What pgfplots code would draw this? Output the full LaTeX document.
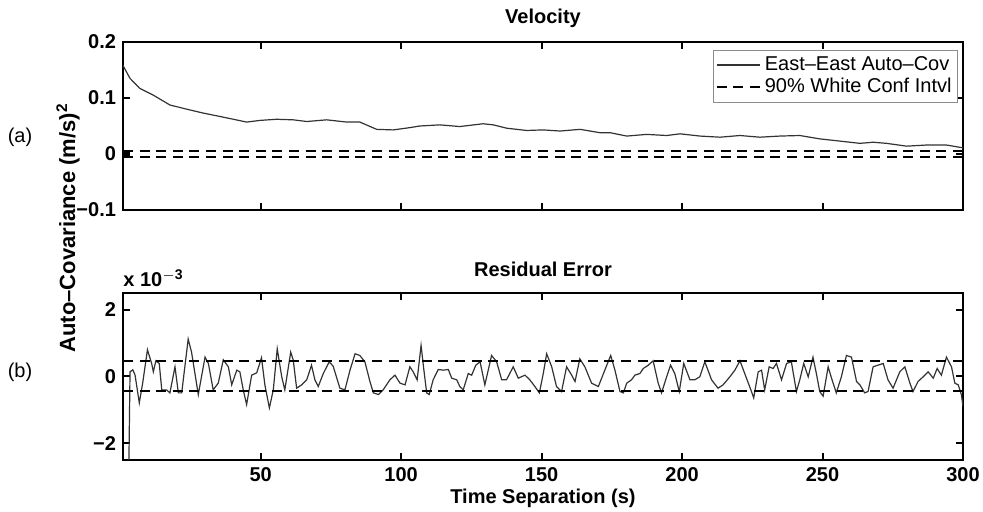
\documentclass[border=0pt]{standalone}
\usepackage{pgfplots}
\pgfplotsset{compat=1.18}
\usepackage{fontspec}
\setmainfont{Liberation Sans}

\pgfplotsset{
  matlab/.style={
    scale only axis, width=420pt,
    xmin=1, xmax=300,
    xtick={50,100,150,200,250,300},
    tick align=inside, major tick length=3.5pt,
    axis line style={line width=1pt},
    every tick/.style={line width=1pt, black},
    ticklabel style={font=\bfseries},
    title style={font=\bfseries, at={(0.5,1)}, anchor=center, yshift=6pt},
  },
  ci/.style={black, line width=1.3pt, dash pattern=on 5pt off 3.3pt},
  cov/.style={black!80, line width=0.6pt},
}

\begin{document}
\begin{tikzpicture}
\useasboundingbox (-61.5pt,-151pt) rectangle (430pt,105pt);

% (a) velocity
\begin{axis}[matlab, name=ax1,
  at={(0,0)}, anchor=south west, height=84pt,
  ymin=-0.1, ymax=0.2,
  ytick={-0.1,0,0.1,0.2}, yticklabels={−0.1,0,0.1,0.2},
  xticklabels={},
  title=Velocity,
  legend cell align=left,
  legend style={at={(0.994,0.952)}, anchor=north east, draw=black!45,
    font=\normalfont, inner sep=1pt, row sep=-1.5pt},
  legend image code/.code={\draw[#1] (0cm,0cm) -- (0.75cm,0cm);},
]
\addplot[cov] coordinates {
 (1,0.158) (3.5,0.135) (7,0.117) (11.8,0.105) (17.7,0.0875) (23.7,0.080)
 (29.6,0.073) (35.5,0.067) (40.3,0.062) (45,0.057) (49.8,0.060) (55.7,0.062)
 (61.6,0.061) (66.4,0.058) (73.5,0.061) (80.6,0.057) (85.3,0.057) (91.3,0.044)
 (97.2,0.043) (103,0.047) (106.7,0.050) (113.8,0.052) (120.9,0.049) (129.2,0.054)
 (132.8,0.052) (137.6,0.046) (144.7,0.042) (150.6,0.043) (156.6,0.041) (163.7,0.044)
 (170.8,0.038) (174.4,0.038) (180.3,0.032) (187.4,0.035) (194.5,0.033) (199.3,0.036)
 (206.4,0.032) (213.5,0.030) (220.6,0.033) (227.7,0.030) (234.8,0.032) (241.9,0.033)
 (249,0.027) (256.2,0.023) (263.3,0.019) (268,0.021) (272.8,0.019) (279.9,0.014)
 (287,0.016) (294.1,0.016) (298.8,0.012) (300,0.011)
};
\addlegendentry{East--East Auto--Cov}
\addplot[ci] coordinates {(1,0.0054) (300,0.0054)};
\addlegendentry{90\% White Conf Intvl}
\addplot[ci, forget plot] coordinates {(1,-0.0054) (300,-0.0054)};
\addplot[black, line width=3pt, forget plot] coordinates {(1,0) (3.5,0)};
\end{axis}

% (b) residual error, values in units of 1e-3
\begin{axis}[matlab, name=ax2,
  at={(0,-41.5pt)}, anchor=north west, height=83.5pt,
  ymin=-2.5, ymax=2.5,
  ytick={-2,0,2}, yticklabels={−2,0,2},
  xticklabels={50,100,150,200,250,300},
  title=Residual Error,
  xlabel=Time Separation (s),
  xlabel style={font=\bfseries, at={(0.5,0)}, anchor=center, yshift=-19pt},
]
\addplot[cov] coordinates {
 (1,-8) (2.3,-8) (3.5,0.14) (4.5,0.20) (5.3,0.04) (6.8,-0.79) (8.0,-0.20)
 (9.7,0.80) (11.2,0.39) (11.8,0.14) (12.7,0.47) (13.9,0.39) (14.8,-0.40)
 (16.5,-0.40) (17.7,-0.49) (19.5,0.29) (20.7,-0.49) (21.9,-0.49) (24.2,1.12)
 (25.4,0.73) (27.8,-0.54) (30.2,0.58) (31.4,0.39) (33.1,-0.40) (34.9,-0.20)
 (36.7,0.50) (38.5,0.29) (39.7,-0.25) (41.5,0.19) (42.6,0.14) (43.8,-0.40)
 (45.0,-0.84) (46.8,0.04) (48.6,0.11) (50.3,0.56) (51.5,-0.25) (53.1,-0.94)
 (54.5,-0.40) (55.9,0.83) (57.5,-0.01) (58.6,-0.40) (60.7,0.73) (61.6,0.49)
 (62.8,-0.35) (64.6,-0.25) (66.4,-0.10) (68.1,0.34) (69.3,-0.10) (70.5,-0.30)
 (72.3,0.09) (74.4,0.44) (75.8,0.31) (78.2,-0.35) (80.0,-0.40) (81.8,0.19)
 (83.6,0.68) (85.3,0.63) (87.1,0.44) (88.9,-0.15) (90.1,-0.49) (91.9,-0.54)
 (93.6,-0.40) (96.0,-0.10) (97.8,0.04) (99.6,-0.20) (101.4,-0.25) (103.1,0.29)
 (104.3,0.14) (105.7,-0.10) (107.1,0.93) (108.1,0.19) (109.1,-0.49) (110.0,-0.54)
 (111.4,-0.10) (113.2,0.21) (115.0,0.19) (116.8,0.21) (118.0,-0.05) (119.8,-0.10)
 (120.9,-0.30) (122.1,-0.40) (123.9,0.09) (125.1,0.04) (126.6,0.34) (128.1,0.44)
 (129.8,-0.25) (131.0,0.19) (132.2,0.63) (134.0,0.44) (135.8,-0.10) (137.5,-0.10)
 (139.9,0.29) (141.7,-0.05) (144.1,0.04) (145.8,-0.10) (147.6,-0.30) (149.2,-0.49)
 (150.6,0.09) (151.8,0.68) (153.6,0.29) (155.3,-0.30) (157.1,-0.45) (158.9,0.29)
 (160.7,0.04) (161.9,-0.15) (163.6,0.53) (165.4,0.29) (167.8,-0.20) (170.2,-0.30)
 (172.5,0.19) (174.6,0.63) (176.1,0.19) (177.9,-0.45) (179.1,-0.49) (180.3,-0.20)
 (182.0,-0.10) (183.2,0.04) (185.0,0.09) (186.2,0.24) (188.0,0.34) (189.7,0.47)
 (191.5,-0.20) (192.7,-0.49) (194.5,-0.01) (195.9,0.34) (197.4,0.09) (199.0,-0.45)
 (200.6,0.39) (202.8,-0.10) (204.5,-0.10) (206.3,-0.01) (208.1,0.44) (210.5,-0.10)
 (212.8,-0.35) (214.6,-0.25) (217.0,-0.01) (218.8,0.19) (220.6,0.47) (222.3,0.09)
 (224.7,-0.45) (225.5,-0.64) (227.1,0.14) (228.3,0.19) (229.4,-0.40) (231.0,0.29)
 (232.4,0.24) (233.6,0.39) (235.4,-0.10) (237.2,0.39) (238.9,0.44) (240.7,-0.45)
 (241.9,-0.10) (243.3,0.39) (244.9,-0.01) (246.6,0.58) (247.8,0.09) (249.0,-0.45)
 (250.2,-0.59) (252.0,0.29) (253.2,-0.05) (254.9,-0.49) (256.7,-0.01) (258.5,0.63)
 (260.3,0.58) (262.1,-0.15) (263.3,-0.25) (265.0,-0.49) (266.2,-0.45) (268.0,0.29)
 (269.8,0.34) (271.6,0.39) (273.3,-0.10) (275.1,-0.35) (277.5,0.14) (279.3,0.29)
 (281.1,-0.20) (282.2,-0.45) (284.0,-0.15) (285.8,-0.01) (287.6,0.14) (289.4,-0.05)
 (290.8,0.24) (292.3,0.04) (294.1,0.58) (295.9,0.29) (297.1,-0.20) (298.3,-0.25)
 (299.4,-0.54) (300,-0.89)
};
\addplot[ci] coordinates {(1,0.46) (300,0.46)};
\addplot[ci] coordinates {(1,-0.44) (300,-0.44)};
\end{axis}

\node[anchor=south west, font=\bfseries, inner sep=0pt] at ([yshift=3pt]ax2.north west) {x 10$^{\mathbf{-3}}$};
\node[rotate=90, font=\fontsize{11}{13}\selectfont\bfseries] at (-27.5pt,-9pt) {Auto--Covariance (m/s)$^{\mathbf{2}}$};
\node at (-51.5pt,36.5pt) {(a)};
\node at (-51.5pt,-81pt) {(b)};
\end{tikzpicture}
\end{document}
